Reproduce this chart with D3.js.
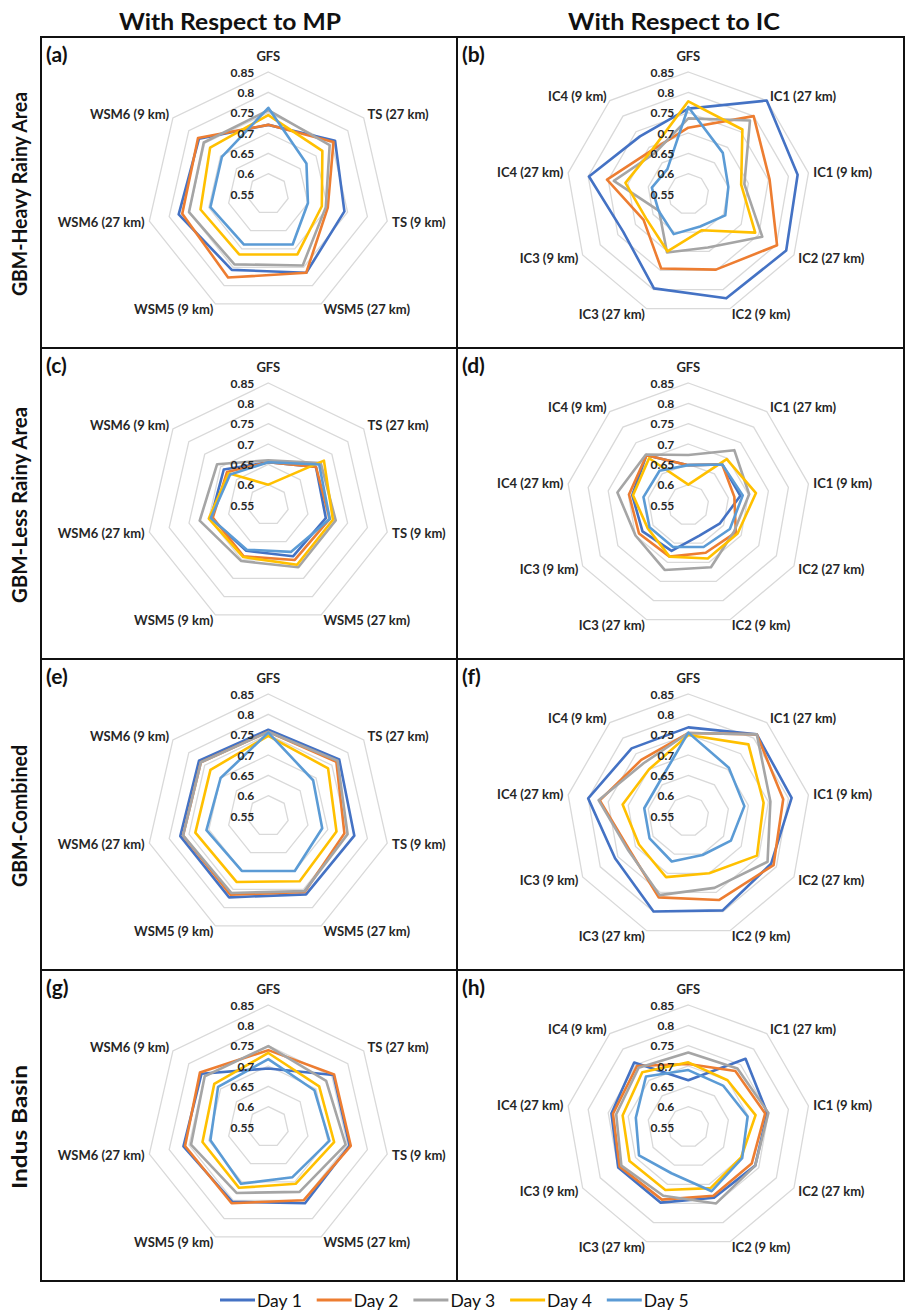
<!DOCTYPE html>
<html>
<head>
<meta charset="utf-8">
<script src="https://cdn.jsdelivr.net/npm/d3@7"></script>
<style>
  html, body { margin: 0; padding: 0; background: #fff; }
  svg { display: block; }
  text { font-family: Lato, "Open Sans", sans-serif; }
</style>
</head>
<body>
<svg id="chart" width="906" height="1310"></svg>
<script>
// ---------- data ----------
const days = ["Day 1", "Day 2", "Day 3", "Day 4", "Day 5"];
const dayColors = ["#4472C4", "#ED7D31", "#A5A5A5", "#FFC000", "#5B9BD5"];

const mpAxes = ["GFS", "TS (27 km)", "TS (9 km)", "WSM5 (27 km)", "WSM5 (9 km)", "WSM6 (27 km)", "WSM6 (9 km)"];
const icAxes = ["GFS", "IC1 (27 km)", "IC1 (9 km)", "IC2 (27 km)", "IC2 (9 km)", "IC3 (27 km)", "IC3 (9 km)", "IC4 (27 km)", "IC4 (9 km)"];

const tickValues = [0.55, 0.6, 0.65, 0.7, 0.75, 0.8, 0.85];
const tickLabels = ["0.55", "0.6", "0.65", "0.7", "0.75", "0.8", "0.85"];

const columnHeaders = ["With Respect to MP", "With Respect to IC"];
const rowLabels = ["GBM-Heavy Rainy Area", "GBM-Less Rainy Area", "GBM-Combined", "Indus Basin"];
const panelLetters = ["(a)", "(b)", "(c)", "(d)", "(e)", "(f)", "(g)", "(h)"];

// each panel: one list per day (Day 1..Day 5), values in axis order
const panelA = [
  [0.72, 0.76, 0.742, 0.765, 0.757, 0.776, 0.768],
  [0.72, 0.755, 0.70, 0.765, 0.778, 0.767, 0.771],
  [0.756, 0.743, 0.695, 0.745, 0.742, 0.75, 0.753],
  [0.744, 0.72, 0.685, 0.715, 0.715, 0.721, 0.733],
  [0.762, 0.67, 0.65, 0.688, 0.688, 0.696, 0.696]
];
const panelB = [
  [0.76, 0.85, 0.823, 0.828, 0.823, 0.797, 0.735, 0.798, 0.735],
  [0.713, 0.80, 0.753, 0.802, 0.748, 0.745, 0.677, 0.753, 0.69],
  [0.736, 0.786, 0.69, 0.76, 0.69, 0.703, 0.633, 0.736, 0.68],
  [0.778, 0.757, 0.682, 0.74, 0.645, 0.70, 0.67, 0.707, 0.69],
  [0.764, 0.682, 0.65, 0.655, 0.635, 0.655, 0.634, 0.641, 0.63]
];
const panelC = [
  [0.655, 0.70, 0.695, 0.69, 0.675, 0.695, 0.69],
  [0.655, 0.70, 0.705, 0.70, 0.69, 0.69, 0.68],
  [0.66, 0.715, 0.72, 0.72, 0.703, 0.723, 0.711],
  [0.60, 0.725, 0.713, 0.713, 0.692, 0.70, 0.675],
  [0.655, 0.71, 0.705, 0.678, 0.672, 0.695, 0.67]
];
const panelD = [
  [0.648, 0.68, 0.68, 0.64, 0.63, 0.67, 0.68, 0.69, 0.71],
  [0.648, 0.68, 0.665, 0.685, 0.675, 0.685, 0.69, 0.698, 0.71],
  [0.673, 0.726, 0.702, 0.68, 0.713, 0.72, 0.70, 0.727, 0.712],
  [0.60, 0.697, 0.719, 0.69, 0.69, 0.685, 0.665, 0.688, 0.70],
  [0.648, 0.68, 0.686, 0.668, 0.66, 0.66, 0.66, 0.662, 0.66]
];
const panelE = [
  [0.762, 0.773, 0.767, 0.764, 0.772, 0.772, 0.768],
  [0.757, 0.764, 0.742, 0.757, 0.765, 0.765, 0.762],
  [0.757, 0.768, 0.75, 0.755, 0.76, 0.765, 0.762],
  [0.747, 0.738, 0.722, 0.728, 0.73, 0.734, 0.732],
  [0.755, 0.691, 0.686, 0.70, 0.70, 0.706, 0.70]
];
const panelF = [
  [0.768, 0.812, 0.808, 0.785, 0.797, 0.80, 0.758, 0.80, 0.767],
  [0.754, 0.812, 0.787, 0.792, 0.77, 0.763, 0.717, 0.771, 0.73],
  [0.754, 0.812, 0.755, 0.775, 0.738, 0.757, 0.72, 0.774, 0.72],
  [0.749, 0.78, 0.738, 0.745, 0.70, 0.71, 0.69, 0.714, 0.70],
  [0.755, 0.705, 0.69, 0.671, 0.652, 0.669, 0.66, 0.66, 0.66]
];
const panelG = [
  [0.694, 0.755, 0.755, 0.758, 0.754, 0.764, 0.76],
  [0.739, 0.757, 0.758, 0.75, 0.758, 0.76, 0.765],
  [0.749, 0.732, 0.745, 0.727, 0.73, 0.745, 0.75],
  [0.732, 0.71, 0.716, 0.705, 0.716, 0.716, 0.72],
  [0.717, 0.695, 0.704, 0.687, 0.705, 0.696, 0.708]
];
const panelH = [
  [0.665, 0.769, 0.747, 0.74, 0.735, 0.748, 0.749, 0.742, 0.757],
  [0.705, 0.73, 0.742, 0.73, 0.73, 0.74, 0.745, 0.738, 0.746],
  [0.733, 0.738, 0.75, 0.74, 0.75, 0.73, 0.74, 0.73, 0.74],
  [0.709, 0.70, 0.718, 0.70, 0.71, 0.715, 0.717, 0.714, 0.726],
  [0.69, 0.683, 0.698, 0.703, 0.718, 0.671, 0.69, 0.681, 0.712]
];

// ---------- layout ----------
const svg = d3.select("#chart");
svg.append("rect").attr("width", 906).attr("height", 1310).attr("fill", "#fff");

const colX = [41, 457, 904];      // panel column boundaries
const rowTop = 37, rowH = 311;    // panel rows
const R = 122;                     // outer radius (0.85)
const centerX = [268.3, 688.3];
const centerOffY = 157;

const r = d3.scaleLinear().domain([0.55, 0.85]).range([0, R]);

const panels = [
  { data: panelA, axes: mpAxes }, { data: panelB, axes: icAxes },
  { data: panelC, axes: mpAxes }, { data: panelD, axes: icAxes },
  { data: panelE, axes: mpAxes }, { data: panelF, axes: icAxes },
  { data: panelG, axes: mpAxes }, { data: panelH, axes: icAxes }
];

// column headers
columnHeaders.forEach((h, i) => {
  svg.append("text")
    .attr("x", [230, 674][i]).attr("y", 21)
    .attr("text-anchor", "middle").attr("dominant-baseline", "central")
    .attr("font-size", 22).attr("font-weight", 700).attr("fill", "#111")
    .attr("textLength", [222, 212][i]).attr("lengthAdjust", "spacingAndGlyphs")
    .text(h);
});

// row labels (rotated)
rowLabels.forEach((t, i) => {
  const cy = rowTop + i * rowH + centerOffY;
  svg.append("text")
    .attr("transform", `translate(19,${cy}) rotate(-90)`)
    .attr("text-anchor", "middle").attr("dominant-baseline", "central")
    .attr("font-size", 20).attr("font-weight", 700).attr("fill", "#111")
    .attr("textLength", [204, 196, 142, 124][i]).attr("lengthAdjust", "spacingAndGlyphs")
    .text(t);
});

panels.forEach((p, idx) => {
  const col = idx % 2, row = Math.floor(idx / 2);
  const x0 = colX[col], x1 = colX[col + 1];
  const y0 = rowTop + row * rowH;
  const cx = centerX[col], cy = y0 + centerOffY;
  const n = p.axes.length;
  const ang = i => i * 2 * Math.PI / n;

  // panel frame
  svg.append("rect")
    .attr("x", x0).attr("y", y0).attr("width", x1 - x0).attr("height", rowH)
    .attr("fill", "none").attr("stroke", "#111").attr("stroke-width", 2);

  const g = svg.append("g").attr("transform", `translate(${cx},${cy})`);

  // grid rings
  const ring = d3.lineRadial().angle((d, i) => ang(i)).radius(d => r(d)).curve(d3.curveLinearClosed);
  tickValues.slice(1).forEach(t => {
    g.append("path").attr("d", ring(d3.range(n).map(() => t)))
      .attr("fill", "none").attr("stroke", "#d9d9d9").attr("stroke-width", 1.3);
  });

  // series
  const line = d3.lineRadial().angle((d, i) => ang(i)).radius(d => r(d)).curve(d3.curveLinearClosed);
  p.data.forEach((vals, k) => {
    g.append("path").attr("d", line(vals))
      .attr("fill", "none").attr("stroke", dayColors[k])
      .attr("stroke-width", 2.6).attr("stroke-linejoin", "round");
  });

  // tick labels
  tickValues.forEach((t, i) => {
    g.append("text")
      .attr("x", -14).attr("y", -r(t))
      .attr("text-anchor", "end").attr("dominant-baseline", "central")
      .attr("font-size", 12).attr("font-weight", 700).attr("fill", "#262626")
      .text(tickLabels[i]);
  });

  // category labels
  p.axes.forEach((lab, i) => {
    const a = ang(i), s = Math.sin(a), c = Math.cos(a);
    const vx = R * s, vy = -R * c;
    let x, y, anchor;
    if (Math.abs(s) < 0.01) { anchor = "middle"; x = vx; y = vy - 16; }
    else { anchor = s > 0 ? "start" : "end"; x = vx + s * 5; y = vy - c * 6; }
    g.append("text")
      .attr("x", x).attr("y", y)
      .attr("text-anchor", anchor).attr("dominant-baseline", "central")
      .attr("font-size", 13).attr("font-weight", 700).attr("fill", "#262626")
      .text(lab);
  });

  // panel letter
  svg.append("text")
    .attr("x", x0 + 5).attr("y", y0 + 16)
    .attr("dominant-baseline", "central")
    .attr("font-size", 21).attr("font-weight", 700).attr("fill", "#111")
    .text(panelLetters[idx]);
});

// legend
const legendY = 1300;
const legendStart = 220, legendStride = 96.7;
days.forEach((d, i) => {
  const lx = legendStart + i * legendStride;
  svg.append("line")
    .attr("x1", lx).attr("x2", lx + 35).attr("y1", legendY).attr("y2", legendY)
    .attr("stroke", dayColors[i]).attr("stroke-width", 3);
  svg.append("text")
    .attr("x", lx + 37).attr("y", legendY)
    .attr("dominant-baseline", "central")
    .attr("font-size", 17.5).attr("font-weight", 400).attr("fill", "#111")
    .text(d);
});
</script>
</body>
</html>
